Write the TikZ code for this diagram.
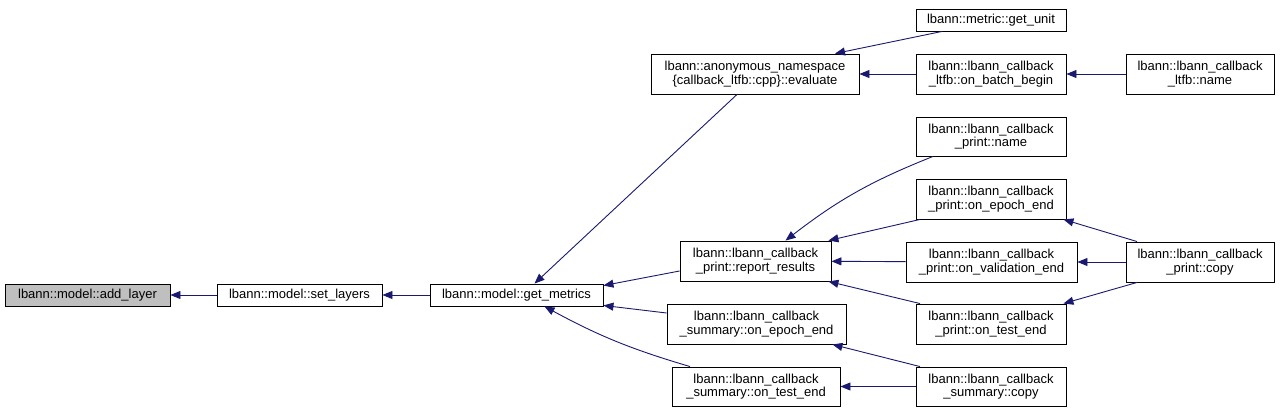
\documentclass[tikz,border=0pt]{standalone}
\usepackage{fontspec}
\setmainfont{Liberation Sans}
\definecolor{EdgeNavy}{RGB}{25,25,112}
\definecolor{RootGray}{RGB}{191,191,191}
\usetikzlibrary{arrows.meta}

\begin{document}
\begin{tikzpicture}[x=1pt, y=-1pt,
	fn/.style={draw=black, line width=0.9pt, fill=white, inner sep=0pt,
		align=center, minimum width=150pt, minimum height=40pt,
		font=\fontsize{13}{13.5}\selectfont},
	fnone/.style={fn, minimum height=22pt},
	edge/.style={draw=EdgeNavy, line width=0.9pt,
		-{Triangle[length=10pt, width=8pt]}}]
	\useasboundingbox (0,0) rectangle (1281,412);

	% left chain
	\node[fnone, fill=RootGray, minimum width=165pt] (addl) at (87.5,295) {lbann::model::add\_layer};
	\node[fnone, minimum width=165pt] (setl) at (299.5,295) {lbann::model::set\_layers};
	\node[fnone, minimum width=173pt] (getm) at (516.5,295) {lbann::model::get\_metrics};

	% ltfb branch
	\node[fn, minimum width=208pt] (eval) at (755,74) {lbann::anonymous\_namespace\\\{callback\_ltfb::cpp\}::evaluate};
	\node[fnone] (unit) at (991,20) {lbann::metric::get\_unit};
	\node[fn] (obb) at (991,74) {lbann::lbann\_callback\\\_ltfb::on\_batch\_begin};
	\node[fn, minimum width=148pt] (lname) at (1200,74) {lbann::lbann\_callback\\\_ltfb::name};

	% print branch
	\node[fn, minimum width=151pt] (reprt) at (755.5,261) {lbann::lbann\_callback\\\_print::report\_results};
	\node[fn, minimum height=39pt] (pname) at (991,136.5) {lbann::lbann\_callback\\\_print::name};
	\node[fn] (pepoch) at (991,199) {lbann::lbann\_callback\\\_print::on\_epoch\_end};
	\node[fn, minimum width=171pt] (valid) at (991.5,262) {lbann::lbann\_callback\\\_print::on\_validation\_end};
	\node[fn] (ptest) at (991,324) {lbann::lbann\_callback\\\_print::on\_test\_end};
	\node[fn, minimum width=148pt] (pcopy) at (1200,262) {lbann::lbann\_callback\\\_print::copy};

	% summary branch
	\node[fn, minimum width=179pt] (sume) at (756.5,324) {lbann::lbann\_callback\\\_summary::on\_epoch\_end};
	\node[fn, minimum width=168pt, minimum height=39pt] (sumt) at (756,386.5) {lbann::lbann\_callback\\\_summary::on\_test\_end};
	\node[fn, minimum height=39pt] (sumc) at (991,386.5) {lbann::lbann\_callback\\\_summary::copy};

	% calls
	\draw[edge] (setl) -- (addl);
	\draw[edge] (getm) -- (setl);
	\draw[edge] ([xshift=-18pt]eval.south) -- ([xshift=18pt]getm.north);
	\draw[edge] ([yshift=-10pt]reprt.west) -- ([yshift=-2pt]getm.north east);
	\draw[edge] ([yshift=11pt]sume.west) -- ([yshift=1pt]getm.south east);
	\draw[edge] ([xshift=-66pt]sumt.north) to[bend left=6] ([xshift=28pt]getm.south);
	\draw[edge] ([xshift=-49pt]unit.south) -- ([xshift=80pt]eval.north);
	\draw[edge] (obb) -- (eval);
	\draw[edge] (lname) -- (obb);
	\draw[edge] ([xshift=-58pt]pname.south) to[bend right=8] ([xshift=30pt]reprt.north);
	\draw[edge] ([xshift=-71pt]pepoch.south) -- ([xshift=-3pt]reprt.north east);
	\draw[edge] (valid) -- (reprt);
	\draw[edge] ([xshift=-71pt]ptest.north) -- ([xshift=-3pt]reprt.south east);
	\draw[edge] ([xshift=-63pt]pcopy.north) -- ([xshift=-3pt]pepoch.south east);
	\draw[edge] (pcopy) -- (valid);
	\draw[edge] ([xshift=-63pt]pcopy.south) -- ([xshift=-3pt]ptest.north east);
	\draw[edge] ([xshift=-71pt]sumc.north) -- ([xshift=-14pt]sume.south east);
	\draw[edge] (sumc) -- (sumt);
\end{tikzpicture}
\end{document}
